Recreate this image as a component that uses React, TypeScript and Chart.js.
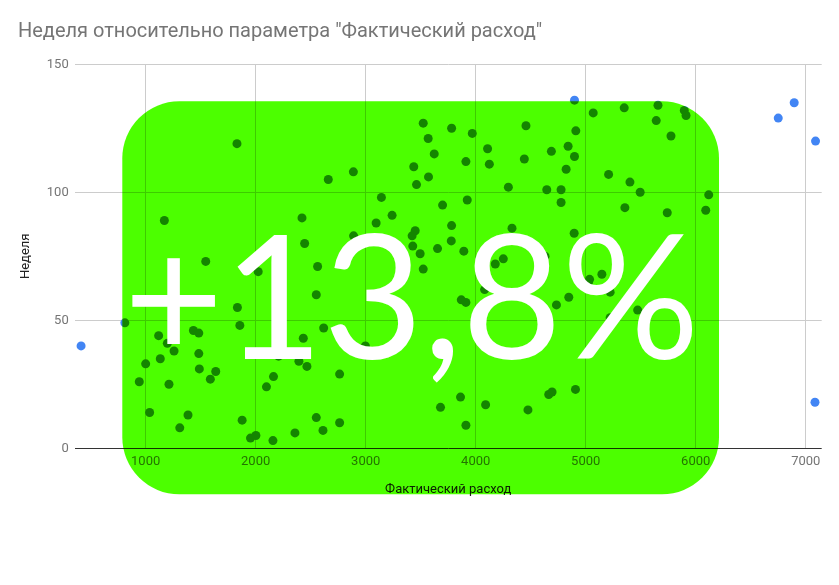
import React, { useEffect, useRef } from 'react';
import { Chart, registerables } from 'chart.js';

Chart.register(...registerables);

const TITLE = 'Неделя относительно параметра "Фактический расход"';
const X_TITLE = 'Фактический расход';
const Y_TITLE = 'Неделя';
const BADGE = '+13,8%';

const xTicks = [1000, 2000, 3000, 4000, 5000, 6000, 7000];
const yTicks = [0, 50, 100, 150];

const expense = [
  413, 1830, 2660, 1170, 2421, 2445, 1546, 2023, 2563, 2551,
  1834, 1856, 811, 2618, 1118, 1434, 1483, 1258, 1197, 1483,
  1000, 1133, 2433, 2208, 2393, 2466, 2763, 1488, 1637, 1588,
  942, 1212, 2162, 2098, 1036, 1385, 1310, 1877, 2551, 2612,
  2763, 2357, 1953, 2002, 2157, 4898, 5068, 3523, 3781, 3969,
  3568, 4457, 4910, 3623, 4108, 4124, 3911, 4442, 4840, 4688,
  4898, 4822, 3437, 3571, 3462, 2888, 4297, 4646, 4776, 4776,
  5208, 3143, 3923, 3699, 3240, 3095, 3781, 4330, 3450, 3422,
  3778, 3428, 4895, 3495, 3653, 3892, 4251, 2890, 3523, 4178,
  4081, 3869, 3911, 3350, 2997, 3862, 3680, 4090, 3911, 4475,
  4664, 4694, 4907, 5026, 5035, 5147, 4846, 4734, 5222, 5222,
  5350, 5657, 5896, 5912, 5641, 5775, 5402, 5495, 5356, 5741,
  6118, 6091, 6895, 6750, 7089, 5472, 7084, 4630,
];

const week = [
  40, 119, 105, 89, 90, 80, 73, 69, 71, 60,
  55, 48, 49, 47, 44, 46, 45, 38, 41, 37,
  33, 35, 43, 36, 34, 32, 29, 31, 30, 27,
  26, 25, 28, 24, 14, 13, 8, 11, 12, 7,
  10, 6, 4, 5, 3, 136, 131, 127, 125, 123,
  121, 126, 124, 115, 117, 111, 112, 113, 118, 116,
  114, 109, 110, 106, 103, 108, 102, 101, 101, 96,
  107, 98, 97, 95, 91, 88, 87, 86, 85, 83,
  81, 79, 84, 76, 78, 77, 74, 83, 70, 72,
  62, 58, 57, 50, 40, 20, 16, 17, 9, 15,
  21, 22, 23, 65, 66, 68, 59, 56, 51, 61,
  133, 134, 132, 130, 128, 122, 104, 100, 94, 92,
  99, 93, 135, 129, 120, 54, 18, 75,
];

const W = 839;
const H = 585;

const overlayPlugin = {
  id: 'overlay',
  beforeDraw(chart: any) {
    const ctx = chart.ctx;
    ctx.save();
    ctx.fillStyle = '#ffffff';
    ctx.fillRect(0, 0, chart.width, chart.height);
    ctx.restore();
  },
  afterDraw(chart: any) {
    const ctx = chart.ctx;
    ctx.save();
    // chart title
    ctx.globalCompositeOperation = 'source-over';
    ctx.fillStyle = '#757575';
    ctx.font = '20px Roboto';
    ctx.textAlign = 'left';
    ctx.textBaseline = 'alphabetic';
    ctx.fillText(TITLE, 18, 37);

    // green badge (multiplied over the chart)
    ctx.globalCompositeOperation = 'multiply';
    ctx.fillStyle = '#4cff00';
    ctx.beginPath();
    const bx = 122.3, by = 101.3, bw = 719 - 122.3, bh = 494.3 - 101.3;
    if ((ctx as any).roundRect) {
      (ctx as any).roundRect(bx, by, bw, bh, 57);
    } else {
      ctx.rect(bx, by, bw, bh);
    }
    ctx.fill();

    // badge text
    ctx.globalCompositeOperation = 'source-over';
    ctx.fillStyle = '#ffffff';
    ctx.font = '172px Lato';
    ctx.textAlign = 'left';
    ctx.textBaseline = 'alphabetic';
    const m = ctx.measureText(BADGE);
    ctx.fillText(BADGE, 131.7 + m.actualBoundingBoxLeft, 359);
    ctx.restore();
  },
};

export default function App() {
  const ref = useRef<HTMLCanvasElement | null>(null);

  useEffect(() => {
    const canvas = ref.current;
    if (!canvas) return;
    const tickFont = { family: 'Roboto', size: 13 };
    const chart = new Chart(canvas, {
      type: 'scatter',
      data: {
        datasets: [
          {
            data: expense.map((x, i) => ({ x, y: week[i] })),
            backgroundColor: '#4285f4',
            borderWidth: 0,
            pointRadius: 4.5,
            pointHoverRadius: 4.5,
          },
        ],
      },
      options: {
        animation: false,
        responsive: false,
        devicePixelRatio: 1,
        events: [],
        layout: { padding: { left: 0, right: 17.3, top: 64.3, bottom: 0 } },
        plugins: {
          legend: { display: false },
          tooltip: { enabled: false },
          title: { display: false },
        },
        scales: {
          x: {
            type: 'linear',
            min: 355,
            max: 7145,
            afterBuildTicks: (s: any) => {
              s.ticks = xTicks.map((v) => ({ value: v }));
            },
            afterFit: (s: any) => {
              s.height = 136.7;
            },
            grid: { color: '#cccccc', drawTicks: false },
            border: { display: false },
            ticks: {
              color: '#757575',
              font: tickFont,
              padding: 6,
              maxRotation: 0,
              autoSkip: false,
              callback: (v: any) => String(v),
            },
            title: {
              display: true,
              text: X_TITLE,
              color: '#222222',
              font: tickFont,
              padding: { top: 0, bottom: 87 },
            },
          },
          y: {
            type: 'linear',
            min: 0,
            max: 150,
            afterBuildTicks: (s: any) => {
              s.ticks = yTicks.map((v) => ({ value: v }));
            },
            afterFit: (s: any) => {
              s.width = 74.7;
            },
            grid: {
              color: (c: any) => (c.tick && c.tick.value === 0 ? '#333333' : '#cccccc'),
              drawTicks: false,
            },
            border: { display: false },
            ticks: {
              color: '#757575',
              font: tickFont,
              padding: 6,
              autoSkip: false,
              callback: (v: any) => String(v),
            },
            title: {
              display: true,
              text: Y_TITLE,
              color: '#222222',
              font: tickFont,
              padding: { top: 18, bottom: 0 },
            },
          },
        },
      } as any,
      plugins: [overlayPlugin],
    });
    return () => chart.destroy();
  }, []);

  return (
    <div style={{ position: 'absolute', left: 0, top: 0, width: W, height: H }}>
      <canvas ref={ref} width={W} height={H} style={{ width: W, height: H, display: 'block' }} />
    </div>
  );
}
